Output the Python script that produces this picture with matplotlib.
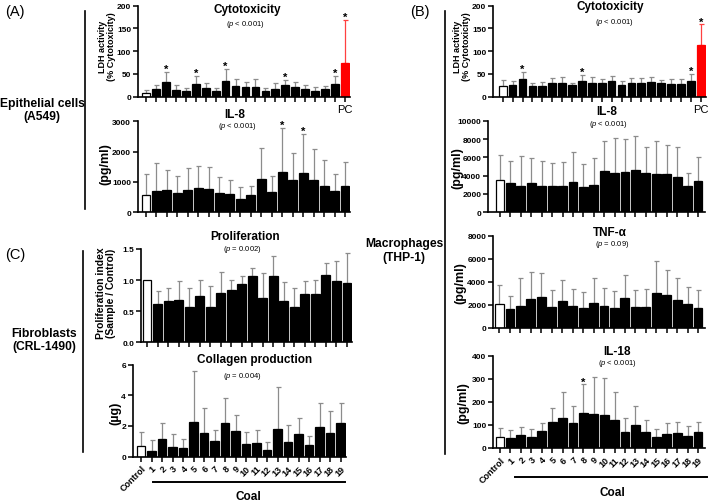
import matplotlib
matplotlib.use("Agg")
import matplotlib.pyplot as plt
import numpy as np
from matplotlib.lines import Line2D
from matplotlib.ticker import FormatStrFormatter

plt.rcParams['font.family'] = ['Liberation Sans', 'DejaVu Sans']
plt.rcParams['mathtext.fontset'] = 'custom'
plt.rcParams['mathtext.it'] = 'Liberation Sans:italic'
plt.rcParams['mathtext.rm'] = 'Liberation Sans'

# ---------------- data ----------------
coal_labels = ['Control'] + [str(i) for i in range(1, 20)]
cyto_labels = coal_labels + ['PC']

a_cyto_mean = [7.5, 16, 33, 14, 13, 28, 19, 13, 35, 23, 22, 22, 12, 17, 25, 22, 17, 13, 16, 27, 74]
a_cyto_sd = [7.5, 10, 21, 12, 7, 17, 11, 7, 26, 16, 11, 17, 8, 13, 12, 10, 9, 8, 8, 18, 94]
a_cyto_star = [2, 5, 8, 14, 19, 20]

a_il8_mean = [580, 710, 740, 640, 740, 810, 770, 640, 600, 440, 560, 1100, 660, 1320, 1050, 1300, 1080, 860, 700, 880]
a_il8_sd = [680, 910, 660, 560, 710, 720, 710, 540, 450, 380, 300, 1020, 530, 1460, 920, 1280, 1020, 850, 570, 770]
a_il8_star = [13, 15]

c_prol_mean = [1.0, 0.61, 0.67, 0.68, 0.56, 0.74, 0.57, 0.79, 0.84, 0.93, 1.06, 0.71, 1.06, 0.66, 0.57, 0.77, 0.77, 1.09, 0.98, 0.95]
c_prol_sd = [0, 0.22, 0.21, 0.30, 0.31, 0.26, 0.34, 0.34, 0.16, 0.13, 0.13, 0.40, 0.32, 0.31, 0.31, 0.22, 0.23, 0.18, 0.33, 0.48]

c_coll_mean = [0.72, 0.39, 1.17, 0.63, 0.54, 2.24, 1.54, 1.0, 2.2, 1.7, 0.85, 0.91, 0.43, 1.8, 0.96, 1.48, 0.74, 1.96, 1.54, 2.17]
c_coll_sd = [0.87, 0.68, 1.03, 0.83, 0.61, 3.36, 1.63, 0.76, 1.63, 1.04, 0.74, 0.81, 0.50, 2.72, 1.11, 1.04, 0.63, 1.52, 1.46, 1.31]

b_cyto_mean = [24, 25, 39, 23, 23, 30, 31, 26, 35, 30, 30, 34, 26, 30, 31, 33, 30, 27, 29, 35, 114]
b_cyto_sd = [13, 9, 16, 8, 10, 12, 12, 5, 13, 13, 10, 12, 8, 12, 10, 11, 7, 12, 11, 15, 45]
b_cyto_star = [2, 8, 19, 20]

b_il8_mean = [3530, 3200, 2840, 3200, 2900, 2900, 2900, 3350, 2760, 3020, 4500, 4250, 4360, 4650, 4250, 4150, 4150, 3850, 2840, 3450]
b_il8_sd = [2720, 2440, 3260, 2730, 2660, 2480, 2550, 3200, 2510, 2910, 3320, 3850, 3600, 3710, 2880, 3630, 3200, 3310, 1410, 2590]

b_tnf_mean = [2050, 1650, 1880, 2540, 2660, 1820, 2310, 1940, 1700, 2170, 1940, 1760, 2600, 1790, 1790, 3000, 2860, 2460, 2050, 1760]
b_tnf_sd = [1710, 1150, 2460, 2340, 2110, 1500, 1880, 1440, 1390, 2190, 1530, 1450, 2020, 1500, 1590, 2810, 2140, 1850, 1530, 1510]

b_il18_mean = [48, 45, 56, 46, 75, 111, 130, 110, 152, 149, 143, 123, 71, 100, 71, 46, 62, 65, 52, 69]
b_il18_sd = [39, 33, 34, 38, 33, 61, 114, 74, 124, 157, 159, 118, 60, 81, 52, 36, 46, 48, 43, 44]
b_il18_star = [8]

# ---------------- layout ----------------
W, H = 709, 502
fig = plt.figure(figsize=(W / 100, H / 100), dpi=100)

def fx(px):
    return px / W

def fy(py):
    return 1 - py / H

def panel(left, right, y0, ytop, ymax, first, last, means, sds, yticks,
          labels=None, stars=(), width=0.85, fmt=None, bottom_labels=False):
    n = len(means)
    ax = fig.add_axes([fx(left), fy(y0), (right - left) / W, (y0 - ytop) / H])
    slot = (last - first) / (n - 1)
    ax.set_xlim(-(first - left) / slot, (n - 1) + (right - last) / slot)
    ax.set_ylim(0, ymax)
    x = np.arange(n)
    colors = ['white'] + ['black'] * (n - 1)
    ecols = ['#8c8c8c'] * n
    if labels is not None and labels[-1] == 'PC':
        colors[-1] = '#ff0000'
        ecols[-1] = '#ff4040'
    ax.bar(x, means, width=width, color=colors, edgecolor=['black'] * (n - 1) + [colors[-1] if colors[-1] == '#ff0000' else 'black'],
           linewidth=0.9, zorder=2)
    for i in range(n):
        if sds[i] > 0:
            ax.errorbar(x[i], means[i], yerr=[[0], [sds[i]]], fmt='none', ecolor=ecols[i],
                        elinewidth=0.9, capsize=1.8, capthick=0.9, zorder=1)
    for i in stars:
        ax.annotate('*', (x[i], means[i] + sds[i]), xytext=(0, -1.5), textcoords='offset points',
                    ha='center', va='bottom', fontsize=8, fontweight='bold')
    for s in ['top', 'right']:
        ax.spines[s].set_visible(False)
    for s in ['left', 'bottom']:
        ax.spines[s].set_linewidth(1.2)
    ax.set_yticks(yticks)
    if fmt:
        ax.yaxis.set_major_formatter(FormatStrFormatter(fmt))
    ax.set_xticks(x)
    if bottom_labels:
        ax.set_xticklabels(labels, rotation=45, ha='right', rotation_mode='anchor',
                           fontsize=6.5, fontweight='bold')
    elif labels is not None and labels[-1] == 'PC':
        ax.set_xticklabels([''] * (n - 1) + ['PC'], fontsize=8)
    else:
        ax.set_xticklabels([''] * n)
    ax.tick_params(axis='both', direction='out', length=3.5, width=1.1, pad=1.5)
    for t in ax.get_yticklabels():
        t.set_fontsize(6)
        t.set_fontweight('bold')
    ax.patch.set_alpha(0)
    return ax

# Panel A
panel(138, 350, 97.7, 6.7, 200, 146, 345, a_cyto_mean, a_cyto_sd, [0, 50, 100, 150, 200],
      labels=cyto_labels, stars=a_cyto_star, width=0.78)
panel(138, 350, 213.3, 122.3, 3000, 146, 345, a_il8_mean, a_il8_sd, [0, 1000, 2000, 3000],
      stars=a_il8_star)
# Panel C
panel(141, 352, 343.3, 250, 1.5, 147, 347, c_prol_mean, c_prol_sd, [0, 0.5, 1.0, 1.5], fmt='%.1f')
panel(133, 346, 457.7, 365.5, 6, 141, 340.5, c_coll_mean, c_coll_sd, [0, 2, 4, 6],
      labels=coal_labels, bottom_labels=True)
# Panel B
panel(493.3, 706, 97.7, 6.7, 200, 502.7, 700.7, b_cyto_mean, b_cyto_sd, [0, 50, 100, 150, 200],
      labels=cyto_labels, stars=b_cyto_star, width=0.78)
panel(488.3, 705, 213.3, 121.7, 10000, 500, 698, b_il8_mean, b_il8_sd, [0, 2000, 4000, 6000, 8000, 10000])
panel(493.3, 705, 329, 236.7, 8000, 499.5, 698, b_tnf_mean, b_tnf_sd, [0, 2000, 4000, 6000, 8000])
panel(493.3, 705, 449, 356.7, 400, 500, 698, b_il18_mean, b_il18_sd, [0, 100, 200, 300, 400],
      labels=coal_labels, stars=b_il18_star, bottom_labels=True)

# titles and p-values
def title(x, y, s):
    fig.text(fx(x), fy(y), s, ha='center', va='center', fontsize=8.5, fontweight='bold')

def ptext(x, y, s):
    fig.text(fx(x), fy(y), s, ha='center', va='center', fontsize=5.5)

title(247, 9.5, 'Cytotoxicity'); ptext(245, 24, r'($\it{p}$ < 0.001)')
title(235, 114.5, 'IL-8'); ptext(237, 127, r'($\it{p}$ < 0.001)')
title(245, 237, 'Proliferation'); ptext(242, 250, r'($\it{p}$ = 0.002)')
title(255, 360.5, 'Collagen production'); ptext(242, 376.7, r'($\it{p}$ = 0.004)')
title(610, 7, 'Cytotoxicity'); ptext(614, 22.3, r'($\it{p}$ < 0.001)')
title(607, 112, 'IL-8'); ptext(608, 125, r'($\it{p}$ < 0.001)')
title(610, 233, 'TNF-α'); ptext(612, 245, r'($\it{p}$ = 0.09)')
title(617, 352, 'IL-18'); ptext(617, 363.3, r'($\it{p}$ < 0.001)')

# y labels
def ylab(x, y, s, fs):
    fig.text(fx(x), fy(y), s, ha='center', va='center', rotation=90, fontsize=fs,
             fontweight='bold', multialignment='center', linespacing=1.05)

ylab(107, 47, 'LDH activity\n(% Cytotoxicity)', 6.5)
ylab(105, 164, '(pg/ml)', 9)
ylab(106, 293, 'Proliferation index\n(Sample / Control)', 7.5)
ylab(115, 413, '(µg)', 9)
ylab(462, 47, 'LDH activity\n(% Cytotoxicity)', 6.5)
ylab(457, 168, '(pg/ml)', 9)
ylab(460, 283, '(pg/ml)', 9)
ylab(463, 403, '(pg/ml)', 9)

# group labels
fig.text(fx(5), fy(12), '(A)', ha='left', va='center', fontsize=10.5)
fig.text(fx(5), fy(255), '(C)', ha='left', va='center', fontsize=10.5)
fig.text(fx(410), fy(12), '(B)', ha='left', va='center', fontsize=10.5)

def group(x, y, s):
    fig.text(fx(x), fy(y), s, ha='center', va='center', fontsize=8.7, fontweight='bold',
             multialignment='center', linespacing=1.2)

group(42, 110.5, 'Epithelial cells\n(A549)')
group(44, 340.5, 'Fibroblasts\n(CRL-1490)')
group(404, 251, 'Macrophages\n(THP-1)')

def vline(x, y1, y2):
    fig.add_artist(Line2D([fx(x), fx(x)], [fy(y1), fy(y2)], color='black', lw=1.2))

def hline(x1, x2, y):
    fig.add_artist(Line2D([fx(x1), fx(x2)], [fy(y), fy(y)], color='black', lw=1.4))

vline(85, 12, 210)
vline(83, 252, 453)
vline(445, 12, 455)

hline(153, 345, 483)
fig.text(fx(248), fy(497), 'Coal', ha='center', va='center', fontsize=8.5, fontweight='bold')
hline(515, 707, 478)
fig.text(fx(612), fy(493), 'Coal', ha='center', va='center', fontsize=8.5, fontweight='bold')

fig.savefig('out.png', dpi=100)
